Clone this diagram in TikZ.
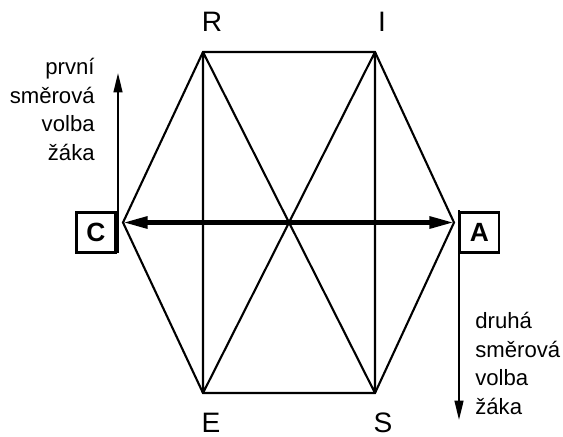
\documentclass[tikz,border=0pt]{standalone}
\usepackage{fontspec}
\setmainfont{Liberation Sans}
\usetikzlibrary{arrows.meta,positioning}
\tikzset{
  edge/.style={line width=1.2pt,line join=miter},
  mainarr/.style={line width=2.6pt,{Triangle[length=14pt,width=6.5pt]}-{Triangle[length=14pt,width=6.5pt]}},
  sidearr/.style={line width=1.1pt,-{Triangle[length=11pt,width=5pt]}},
  vlabel/.style={font=\fontsize{16}{18}\selectfont,inner sep=0pt},
  typebox/.style={draw,line width=1.2pt,minimum width=0.78cm,minimum height=0.8cm,
    inner sep=0pt,font=\fontsize{15}{17}\selectfont\bfseries},
  note/.style={font=\fontsize{12.6}{16.2}\selectfont,inner sep=0pt}
}

\begin{document}
\begin{tikzpicture}[x=0.02cm,y=-0.02cm]
  \useasboundingbox (0,0) rectangle (563,436);

  % vertices of the hexagon
  \coordinate (vR) at (203,52);
  \coordinate (vI) at (375,52);
  \coordinate (vA) at (454,222.5);
  \coordinate (vS) at (375,393);
  \coordinate (vE) at (203,393);
  \coordinate (vC) at (123,222.5);

  \draw[edge] (vR) -- (vI) -- (vA) -- (vS) -- (vE) -- (vC) -- cycle;
  \draw[edge] (vR) -- (vE) (vI) -- (vS) (vR) -- (vS) (vI) -- (vE);
  \draw[mainarr] (vC) -- (vA);

  \node[vlabel] (lR) at (212,22) {R};
  \node[vlabel] (lI) at (382,22) {I};
  \node[vlabel] (lE) at (211,423) {E};
  \node[vlabel] (lS) at (383,423) {S};

  \node[typebox] (bC) at (96,232.5) {C};
  \node[typebox] (bA) at (479.5,232.5) {A};

  % direction arrows
  \coordinate (upFrom) at (118,253);
  \coordinate (upTo) at (118,73);
  \coordinate (downFrom) at (459,210);
  \coordinate (downTo) at (459,420);
  \draw[sidearr] (upFrom) -- (upTo);
  \draw[sidearr] (downFrom) -- (downTo);

  \node[note,align=right,anchor=north east] (nFirst) at (95,58) {první\\směrová\\volba\\žáka};
  \node[note,align=left,anchor=north west] (nSecond) at (475,312) {druhá\\směrová\\volba\\žáka};
\end{tikzpicture}
\end{document}
